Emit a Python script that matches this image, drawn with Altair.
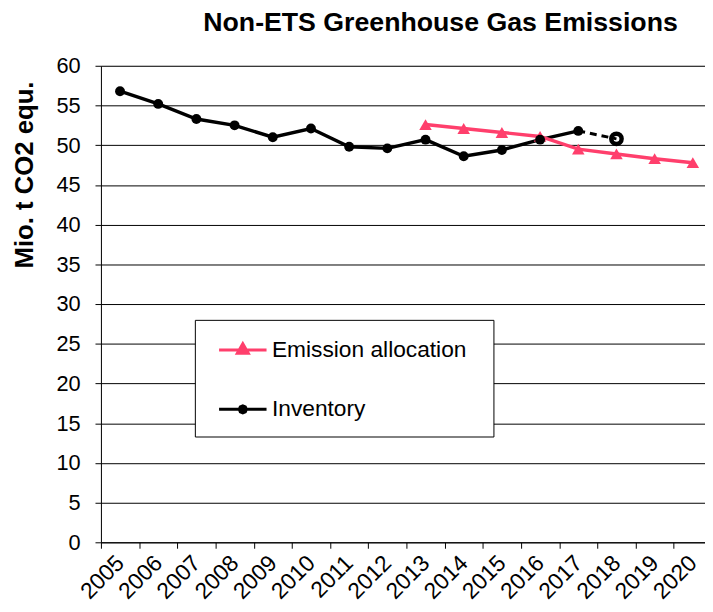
import altair as alt
import pandas as pd

# ---- data ----
years = [str(y) for y in range(2005, 2021)]
inventory_years = [str(y) for y in range(2005, 2018)]
inventory_values = [56.8, 55.2, 53.3, 52.5, 51.0, 52.1, 49.8, 49.6, 50.7, 48.6, 49.4, 50.7, 51.8]
projection_years = ["2017", "2018"]
projection_values = [51.8, 50.8]
allocation_years = [str(y) for y in range(2013, 2021)]
allocation_values = [52.6, 52.1, 51.6, 51.1, 49.5, 48.9, 48.3, 47.8]
series_names = ["Emission allocation", "Inventory"]
series_colors = ["#FF3F6C", "#000000"]
y_ticks = list(range(0, 61, 5))

FONT = "Liberation Sans"

inv = pd.DataFrame({"year": inventory_years, "value": inventory_values, "series": "Inventory"})
alloc = pd.DataFrame({"year": allocation_years, "value": allocation_values, "series": "Emission allocation"})
proj = pd.DataFrame({"year": projection_years, "value": projection_values, "series": "Inventory"})
main = pd.concat([alloc, inv], ignore_index=True)
proj_end = proj.iloc[[1]]

xscale = alt.Scale(type="band", domain=years, range=[0, 618], paddingInner=0, paddingOuter=0)
yscale = alt.Scale(domain=[0, 60], nice=False, zero=True)


def xe():
    return alt.X("year:O", scale=xscale, bandPosition=0.5)


def ye():
    return alt.Y("value:Q", scale=yscale)


x_enc = alt.X("year:O", scale=xscale, bandPosition=0.5, title=None,
              axis=alt.Axis(tickBand="extent", grid=False, labelAngle=315, labelAlign="right",
                            labelBaseline="middle", labelFontSize=23, labelFont=FONT, labelColor="black",
                            tickSize=6, tickColor="black", domainColor="black", labelPadding=11))
y_enc = alt.Y("value:Q", scale=yscale,
              axis=alt.Axis(values=y_ticks, grid=True, gridColor="black", gridWidth=1, gridOpacity=1,
                            tickSize=6, tickColor="black", domainColor="black",
                            labelFontSize=22, labelFont=FONT, labelColor="black", labelPadding=15,
                            title="Mio. t CO2 equ.", titleFont=FONT, titleFontSize=26,
                            titleFontWeight="bold", titleColor="black", titleAngle=270,
                            titleAlign="center", titleBaseline="middle", titleX=-77, titleY=110))

inv_line = alt.Chart(inv).mark_line(strokeWidth=3.5, color=series_colors[1]).encode(x=x_enc, y=y_enc)
alloc_line = alt.Chart(alloc).mark_line(strokeWidth=3.5, color=series_colors[0]).encode(x=xe(), y=ye())

dashed = alt.Chart(proj).mark_line(strokeWidth=3, strokeDash=[7, 5], color="black").encode(x=xe(), y=ye())

tri = alt.Chart(alloc).mark_point(shape="triangle-up", filled=True, size=160, opacity=1,
                                   color=series_colors[0]).encode(x=xe(), y=ye())

dots = alt.Chart(inv).mark_circle(size=100, opacity=1, color="black").encode(x=xe(), y=ye())

proj_dot = alt.Chart(proj_end).mark_point(shape="circle", filled=False, size=110, strokeWidth=4.5,
                                          color="black", opacity=1).encode(x=xe(), y=ye())

legend_paths = [
    "M-1,0L1,0M0,-0.26L0.23,0.14L-0.23,0.14ZM0,-0.07L0.07,0.05L-0.07,0.05ZM10.1,0.65",
    "M-1,0L1,0M0.15,0L0.106,0.106L0,0.15L-0.106,0.106L-0.15,0L-0.106,-0.106L0,-0.15L0.106,-0.106ZM0.05,0L0,0.05L-0.05,0L0,-0.05ZM10.1,0.65",
]

leg = alt.Legend(orient="none", legendX=95, legendY=257, title=None, direction="vertical",
                 fillColor="white", strokeColor="black", padding=5,
                 symbolSize=2304, symbolStrokeWidth=3, symbolOpacity=1, symbolOffset=18,
                 labelOffset=4, rowPadding=12, labelLimit=400,
                 labelFontSize=23, labelFont=FONT, labelColor="black")

legend_layer = alt.Chart(main).mark_point(filled=False, size=0, strokeWidth=3).encode(
    x=xe(), y=ye(),
    color=alt.Color("series:N", scale=alt.Scale(domain=series_names, range=series_colors), legend=leg),
    shape=alt.Shape("series:N", scale=alt.Scale(domain=series_names, range=legend_paths), legend=leg),
)

chart = alt.layer(inv_line, alloc_line, dashed, tri, dots, proj_dot, legend_layer).properties(
    width=611, height=482,
    autosize=alt.AutoSizeParams(type="none"),
    padding={"left": 94, "top": 55, "right": 0, "bottom": 62},
    title=alt.TitleParams("Non-ETS Greenhouse Gas Emissions", font=FONT, fontSize=27,
                          fontWeight="bold", color="black", anchor="middle", dx=38, offset=18),
).configure_view(stroke=None).configure(background="white")

chart.save("out.html", embed_options={"renderer": "svg", "actions": False})
